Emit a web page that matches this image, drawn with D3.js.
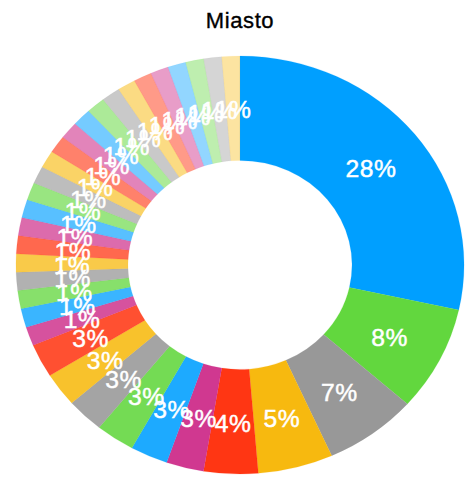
<!DOCTYPE html>
<html>
<head>
<meta charset="utf-8">
<script src="https://cdn.jsdelivr.net/npm/d3@7"></script>
<style>
  html, body { margin: 0; padding: 0; background: #ffffff; }
  svg { display: block; }
</style>
</head>
<body>
<svg id="chart" width="472" height="482"></svg>
<script>
// ---- data ----
const title = "Miasto";
const categories = d3.range(34).map(i => "Kategoria " + (i + 1));
const values = [
  28.4, 8.1, 6.7, 5.4, 3.9, 2.7, 2.7, 2.8, 2.7, 2.6, 2.6,
  1.45, 1.45, 1.4, 1.4, 1.4, 1.4, 1.4, 1.4, 1.35, 1.35, 1.35, 1.35,
  1.35, 1.35, 1.35, 1.35, 1.3, 1.3, 1.3, 1.3, 1.3, 1.3, 1.3
];
const palette = ["#009fff", "#5fd63a", "#949494", "#f7b500", "#ff2600", "#cb2384"];

// ---- layout ----
const cx = 240, cy = 265;
const stretchX = 1.072;
const outerR = 209, innerR = 104.5;

const svg = d3.select("#chart");

svg.append("text")
  .attr("x", cx)
  .attr("y", 28)
  .attr("text-anchor", "middle")
  .attr("font-family", "'Liberation Sans', Arial, Helvetica, sans-serif")
  .attr("font-size", 22)
  .attr("letter-spacing", 0.6)
  .attr("fill", "#000000")
  .attr("stroke", "#000000")
  .attr("stroke-width", 0.35)
  .text(title);

const data = categories.map((c, i) => ({ name: c, value: values[i], index: i }));
const total = d3.sum(values);
const n = data.length;

const color = d3.scaleOrdinal().domain(d3.range(6)).range(palette);
const opacity = d3.scaleLinear().domain([0, n - 1]).range([1, 0.37]);

const pie = d3.pie().value(d => d.value).sort(null);
const arc = d3.arc().innerRadius(innerR).outerRadius(outerR);

const g = svg.append("g")
  .attr("transform", `translate(${cx},${cy}) scale(${stretchX},1)`);

const arcs = pie(data);

g.selectAll("path.slice")
  .data(arcs)
  .join("path")
  .attr("class", "slice")
  .attr("d", arc)
  .attr("fill", d => color(d.data.index % 6))
  .attr("fill-opacity", d => opacity(d.data.index))
  .attr("stroke", d => color(d.data.index % 6))
  .attr("stroke-opacity", d => opacity(d.data.index) * 0.3)
  .attr("stroke-width", 0.5);

const fmt = v => Math.round(v / total * 100) + "%";

g.selectAll("text.lbl")
  .data(arcs)
  .join("text")
  .attr("class", "lbl")
  .attr("transform", d => { const [x, y] = arc.centroid(d); return `translate(${x},${y + 2})`; })
  .attr("text-anchor", "middle")
  .attr("dy", "0.35em")
  .attr("font-family", "'Liberation Sans', Arial, Helvetica, sans-serif")
  .attr("font-size", 23)
  .attr("letter-spacing", 0.5)
  .attr("fill", "#ffffff")
  .attr("stroke", "#ffffff")
  .attr("stroke-width", 0.45)
  .text(d => fmt(d.data.value));
</script>
</body>
</html>
